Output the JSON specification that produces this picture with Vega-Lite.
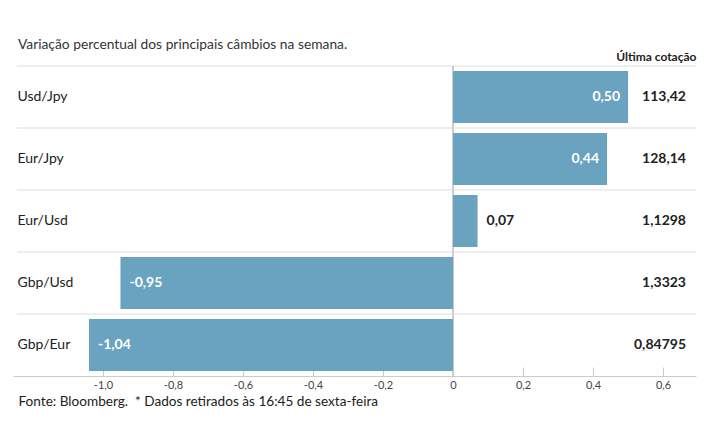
{
  "$schema": "https://vega.github.io/schema/vega-lite/v6.json",
  "width": 683,
  "height": 310,
  "autosize": {"type": "none"},
  "padding": {"left": 13, "top": 66, "right": 19, "bottom": 69},
  "config": {
    "locale": {"number": {"decimal": ",", "thousands": ".", "grouping": [3], "currency": ["", " €"], "minus": "-"}},
    "view": {"stroke": null},
    "font": "Lato"
  },
  "title": {
    "text": "Variação percentual dos principais câmbios na semana.",
    "anchor": "start",
    "dx": 5,
    "fontSize": 13.8,
    "fontWeight": "normal",
    "color": "#333",
    "offset": -2
  },
  "data": {
    "values": [
      {"par": "Usd/Jpy", "variacao": 0.50, "cotacao": 113.42},
      {"par": "Eur/Jpy", "variacao": 0.44, "cotacao": 128.14},
      {"par": "Eur/Usd", "variacao": 0.07, "cotacao": 1.1298},
      {"par": "Gbp/Usd", "variacao": -0.95, "cotacao": 1.3323},
      {"par": "Gbp/Eur", "variacao": -1.04, "cotacao": 0.84795}
    ]
  },
  "resolve": {"axis": {"x": "independent"}},
  "layer": [
    {
      "mark": {"type": "rule", "color": "#dddddd", "strokeWidth": 1},
      "encoding": {
        "y": {"field": "par", "type": "nominal", "bandPosition": 0, "sort": ["Usd/Jpy", "Eur/Jpy", "Eur/Usd", "Gbp/Usd", "Gbp/Eur"]},
        "x": {"datum": -1.246, "type": "quantitative", "axis": null},
        "x2": {"datum": 0.694}
      }
    },
    {
      "mark": {"type": "rule", "color": "#cccccc", "strokeWidth": 1},
      "encoding": {
        "x": {"datum": 0, "type": "quantitative", "axis": null}
      }
    },
    {
      "mark": {"type": "bar", "color": "#69a3bf", "height": {"band": 0.84}},
      "encoding": {
        "x": {
          "field": "variacao",
          "type": "quantitative",
          "scale": {"domain": [-1.257, 0.694], "nice": false, "zero": false},
          "axis": {
            "orient": "bottom",
            "values": [-1, -0.8, -0.6, -0.4, -0.2, 0, 0.2, 0.4, 0.6],
            "format": ".1f",
            "labelExpr": "datum.value === 0 ? '0' : datum.label",
            "grid": false,
            "domainColor": "#cccccc",
            "tickColor": "#cccccc",
            "tickSize": -9,
            "labelPadding": 12,
            "labelFontSize": 11,
            "labelColor": "#444444",
            "title": "Fonte: Bloomberg.\u00a0\u00a0* Dados retirados às 16:45 de sexta-feira",
            "titleAnchor": "start",
            "titleAlign": "left",
            "titleX": 5,
            "titleFontSize": 13.6,
            "titleFontWeight": "normal",
            "titleColor": "#222222",
            "titlePadding": 4
          }
        },
        "y": {
          "field": "par",
          "type": "nominal",
          "sort": ["Usd/Jpy", "Eur/Jpy", "Eur/Usd", "Gbp/Usd", "Gbp/Eur"],
          "scale": {"paddingInner": 0, "paddingOuter": 0},
          "axis": {
            "title": null,
            "domain": false,
            "ticks": false,
            "grid": false,
            "labelAlign": "left",
            "labelPadding": -4,
            "labelFontSize": 14,
            "labelColor": "#222222"
          }
        }
      }
    },
    {
      "transform": [{"filter": "datum.variacao >= 0.2"}],
      "mark": {"type": "text", "align": "right", "dx": -8, "fontSize": 14, "fontWeight": "bold", "color": "#ffffff", "baseline": "middle"},
      "encoding": {
        "x": {
          "field": "variacao",
          "type": "quantitative",
          "axis": {
            "orient": "top",
            "labels": false,
            "ticks": false,
            "domain": false,
            "grid": false,
            "title": "Última cotação",
            "titleAnchor": "end",
            "titleAlign": "right",
            "titleFontSize": 12,
            "titleFontWeight": "bold",
            "titleColor": "#222222",
            "titlePadding": 3
          }
        },
        "y": {"field": "par", "type": "nominal", "sort": ["Usd/Jpy", "Eur/Jpy", "Eur/Usd", "Gbp/Usd", "Gbp/Eur"]},
        "text": {"field": "variacao", "type": "quantitative", "format": ".2f"}
      }
    },
    {
      "transform": [{"filter": "datum.variacao >= 0 && datum.variacao < 0.2"}],
      "mark": {"type": "text", "align": "left", "dx": 9, "fontSize": 14, "fontWeight": "bold", "color": "#222222", "baseline": "middle"},
      "encoding": {
        "x": {"field": "variacao", "type": "quantitative", "axis": null},
        "y": {"field": "par", "type": "nominal", "sort": ["Usd/Jpy", "Eur/Jpy", "Eur/Usd", "Gbp/Usd", "Gbp/Eur"]},
        "text": {"field": "variacao", "type": "quantitative", "format": ".2f"}
      }
    },
    {
      "transform": [{"filter": "datum.variacao < 0"}],
      "mark": {"type": "text", "align": "left", "dx": 9, "fontSize": 14, "fontWeight": "bold", "color": "#ffffff", "baseline": "middle"},
      "encoding": {
        "x": {"field": "variacao", "type": "quantitative", "axis": null},
        "y": {"field": "par", "type": "nominal", "sort": ["Usd/Jpy", "Eur/Jpy", "Eur/Usd", "Gbp/Usd", "Gbp/Eur"]},
        "text": {"field": "variacao", "type": "quantitative", "format": ".2f"}
      }
    },
    {
      "mark": {"type": "text", "align": "right", "dx": -10, "fontSize": 14, "fontWeight": "bold", "color": "#222222", "baseline": "middle"},
      "encoding": {
        "x": {"datum": 0.694, "type": "quantitative", "axis": null},
        "y": {"field": "par", "type": "nominal", "sort": ["Usd/Jpy", "Eur/Jpy", "Eur/Usd", "Gbp/Usd", "Gbp/Eur"]},
        "text": {"field": "cotacao", "type": "quantitative", "format": "~g"}
      }
    }
  ]
}
